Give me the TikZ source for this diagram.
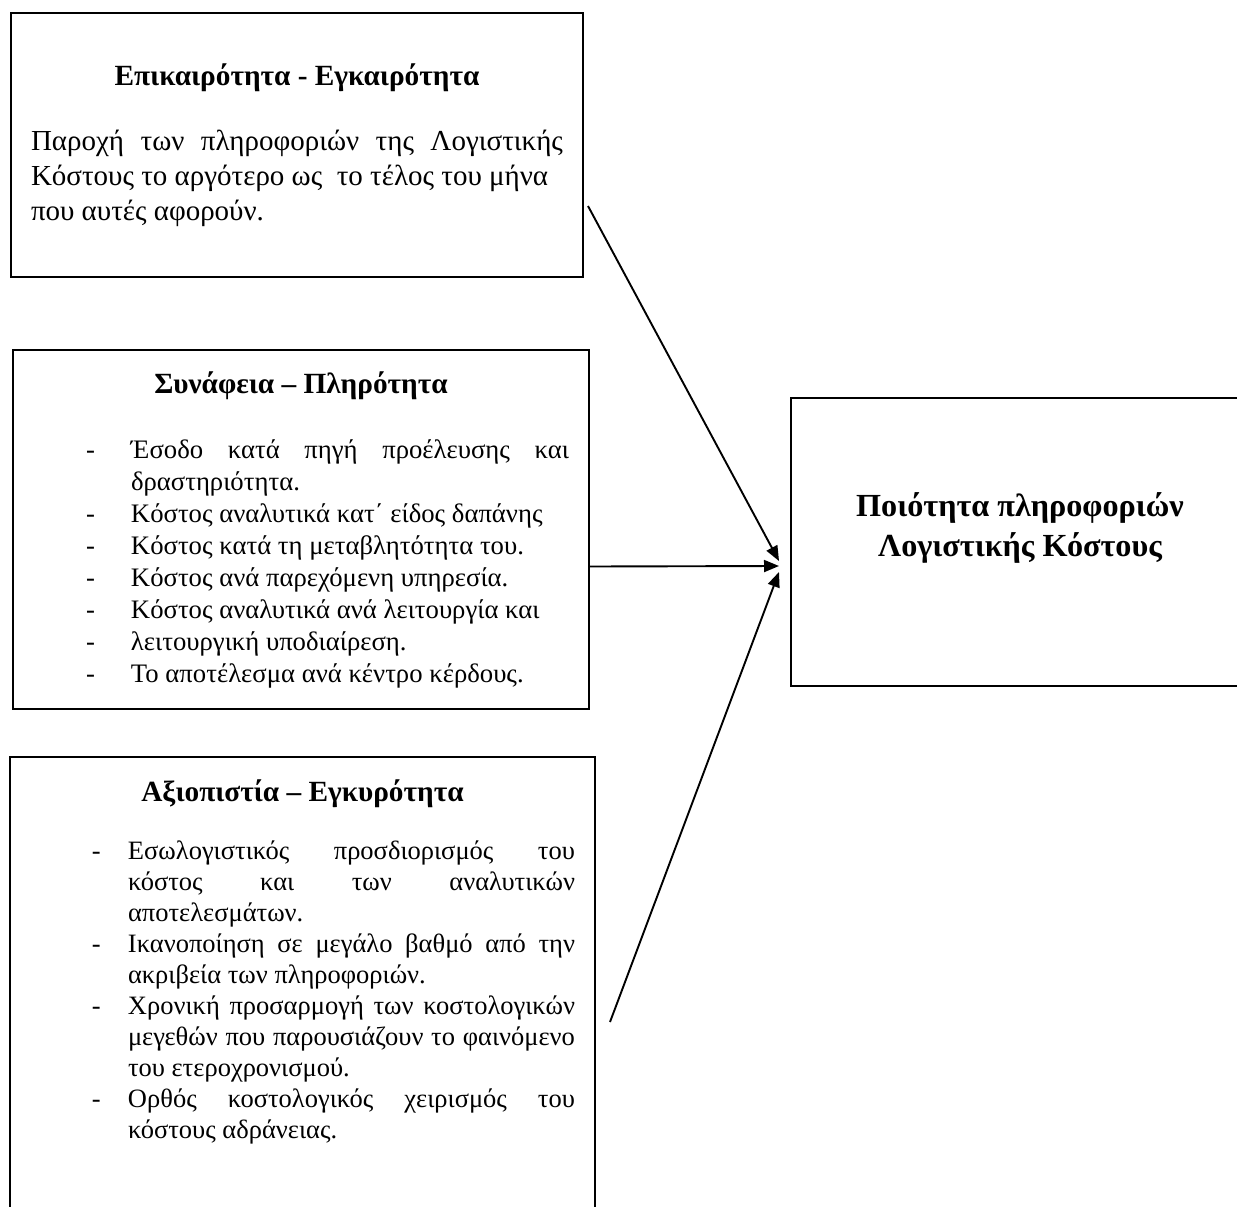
\documentclass[tikz,border=0pt]{standalone}
\usepackage{fontspec}
\setmainfont{Liberation Serif}
\usepackage{tikz}
\usetikzlibrary{arrows.meta}

\newlength{\dashhang}
\newcommand{\dashitem}[1]{\par\noindent\hangindent=\dashhang\hangafter=1\makebox[\dashhang][l]{-}#1}
\newcommand{\headtext}[1]{{\centering\fontsize{29.3}{33}\selectfont\bfseries #1\par}}

\begin{document}
\begin{tikzpicture}[x=1pt,y=-1pt,
  infobox/.style={draw,line width=2pt,anchor=north west,align=justify,inner xsep=20pt},
  feed/.style={line width=1.9pt,-{Triangle[length=15pt,width=12pt]}}]
\useasboundingbox (0,0) rectangle (1237,1207);

% sources on the left
\node[infobox,minimum width=572pt,minimum height=264pt,text width=532pt,
      font=\fontsize{29}{35}\selectfont] (timely) at (10,12) {%
\headtext{Επικαιρότητα - Εγκαιρότητα}
\vspace{30pt}
Παροχή των πληροφοριών της Λογιστικής\linebreak Κόστους το αργότερο ως~ το τέλος του μήνα\newline που αυτές αφορούν.};

\node[infobox,minimum width=576pt,minimum height=359pt,text width=536pt,
      font=\fontsize{26.7}{32}\selectfont] (relevant) at (12,349) {%
\headtext{Συνάφεια – Πληρότητα}
\vspace{33pt}
\setlength{\dashhang}{45pt}\leftskip=53pt
\dashitem{Έσοδο κατά πηγή προέλευσης και\linebreak δραστηριότητα.}
\dashitem{Κόστος αναλυτικά κατ΄ είδος δαπάνης}
\dashitem{Κόστος κατά τη μεταβλητότητα του.}
\dashitem{Κόστος ανά παρεχόμενη υπηρεσία.}
\dashitem{Κόστος αναλυτικά ανά λειτουργία και}
\dashitem{λειτουργική υποδιαίρεση.}
\dashitem{Το αποτέλεσμα ανά κέντρο κέρδους.}\par};

\node[infobox,minimum width=585pt,text width=545pt,inner ysep=23pt,
      font=\fontsize{26.5}{31}\selectfont] (reliable) at (9,756) {%
\headtext{Αξιοπιστία – Εγκυρότητα}
\vspace{27pt}
\setlength{\dashhang}{36pt}\leftskip=62pt
\dashitem{Εσωλογιστικός προσδιορισμός του\linebreak κόστος και των αναλυτικών\linebreak αποτελεσμάτων.}
\dashitem{Ικανοποίηση σε μεγάλο βαθμό από την\linebreak ακριβεία των πληροφοριών.}
\dashitem{Χρονική προσαρμογή των κοστολογικών\linebreak μεγεθών που παρουσιάζουν το φαινόμενο\linebreak του ετεροχρονισμού.}
\dashitem{Ορθός κοστολογικός χειρισμός του\linebreak κόστους αδράνειας.}\par
\rule{0pt}{150pt}};

% target
\node[draw,line width=2pt,anchor=north west,minimum width=458pt,minimum height=288pt,
      align=center,font=\fontsize{32.2}{40}\selectfont\bfseries] (quality) at (790,397)
  {Ποιότητα πληροφοριών\\Λογιστικής Κόστους\\[-6pt]\mbox{}};

\coordinate (hub) at ([xshift=-11pt,yshift=-24pt]quality.west);
\coordinate (tail) at (610,1022);

\draw[feed] ([xshift=4pt,yshift=-61pt]timely.east) -- ([yshift=5pt]hub);
\draw[feed] ([yshift=-37pt]relevant.east) -- (hub);
\draw[feed] (tail) -- ([yshift=-6pt]hub);
\end{tikzpicture}
\end{document}
